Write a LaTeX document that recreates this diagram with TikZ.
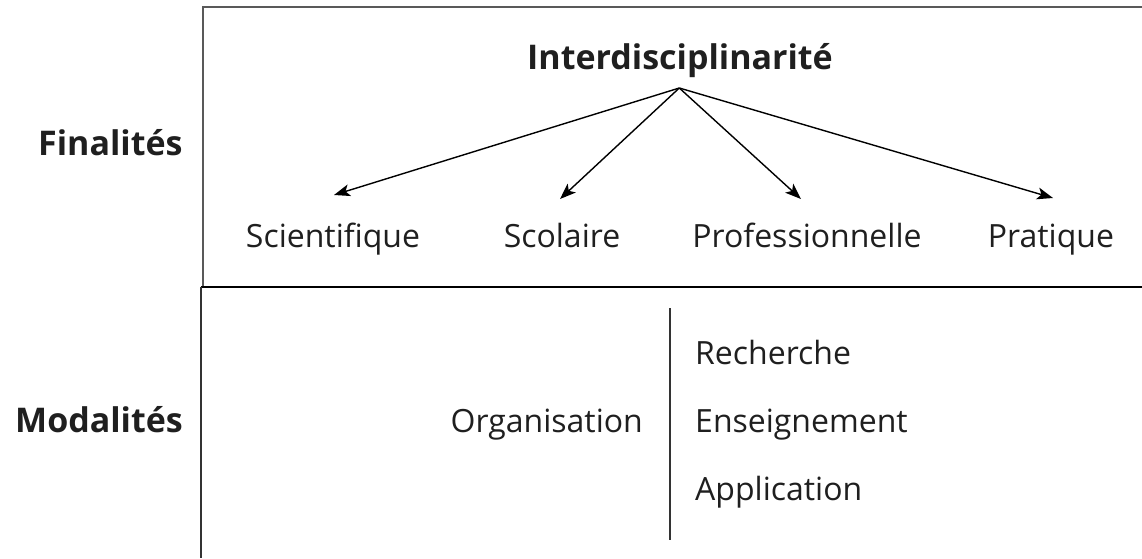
\documentclass[tikz,border=0pt]{standalone}
\usepackage{fontspec}
\setmainfont{Open Sans}
\usetikzlibrary{arrows.meta}
\begin{document}
\begin{tikzpicture}[x=1pt,y=-1pt,
  lbl/.style={inner sep=0pt,anchor=base,font=\fontsize{32}{38}\selectfont,text=black!88},
  head/.style={inner sep=0pt,anchor=base,font=\fontsize{34}{40}\selectfont\bfseries,text=black!88},
  arr/.style={-{Stealth[length=16pt,width=12pt,inset=4pt]},line width=1.4pt}]
\useasboundingbox (0,0) rectangle (1142,558);
\draw[line width=1.5pt,black!65] (1142,7) -- (203,7) -- (203,287);
\draw[line width=2pt] (201,287) -- (1142,287);
\draw[line width=1.5pt,black!80] (201,287) -- (201,558);
\draw[line width=1.5pt,black!80] (670,308) -- (670,540);
\node[head] (inter) at (680,69.5) {Interdisciplinarité};
\coordinate (o) at (679.3,88);
\node[head,anchor=base west] (fin) at (38,155.5) {Finalités};
\node[head,anchor=base west] (mod) at (15,432.5) {Modalités};
\node[lbl] (sci) at (333,247) {Scientifique};
\node[lbl] (sco) at (562,247) {Scolaire};
\node[lbl] (pro) at (807,247) {Professionnelle};
\node[lbl] (pra) at (1051,247) {Pratique};
\node[lbl,anchor=base east] (org) at (643,432.5) {Organisation};
\node[lbl,anchor=base west] (rec) at (695,364.5) {Recherche};
\node[lbl,anchor=base west] (ens) at (695,432.5) {Enseignement};
\node[lbl,anchor=base west] (app) at (695,500.5) {Application};
\coordinate (t1) at (334,195);
\coordinate (t2) at (560,199);
\coordinate (t3) at (801,199);
\coordinate (t4) at (1053,198);
\draw[arr] (o) -- (t1);
\draw[arr] (o) -- (t2);
\draw[arr] (o) -- (t3);
\draw[arr] (o) -- (t4);
\end{tikzpicture}
\end{document}
